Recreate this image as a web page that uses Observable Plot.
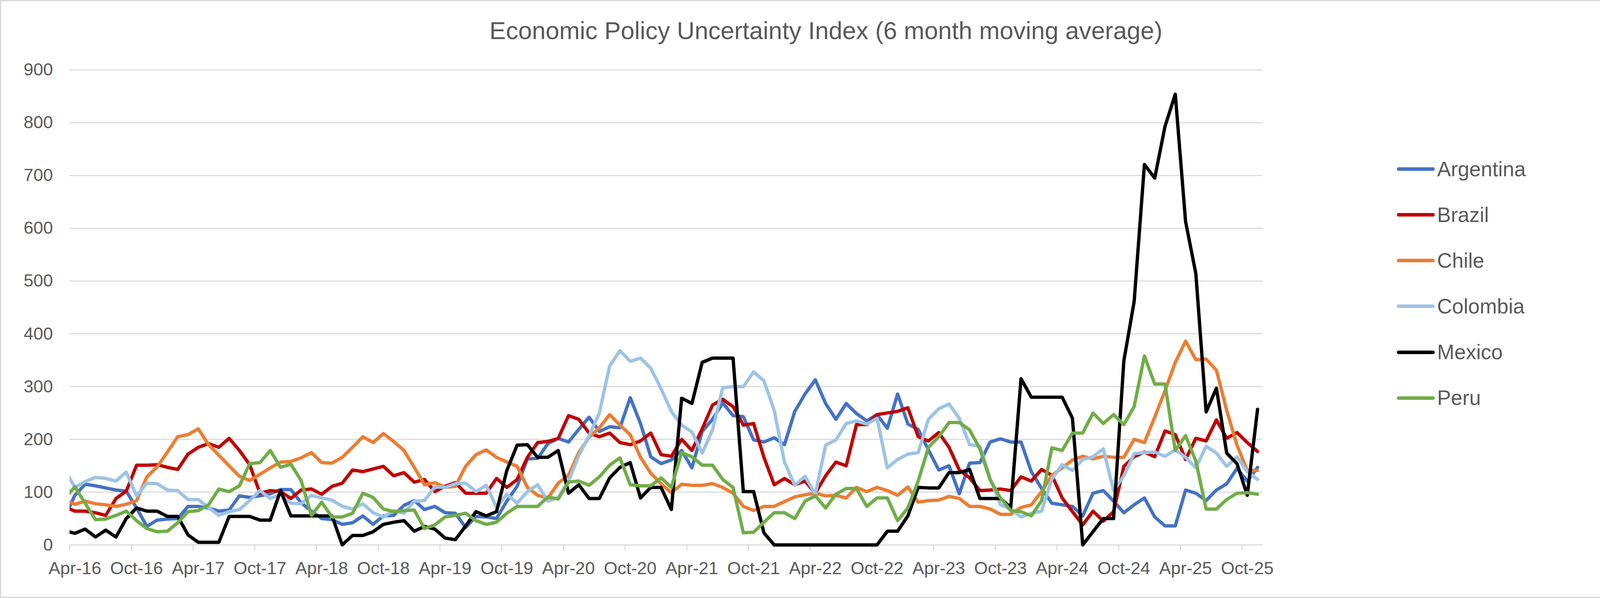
<!DOCTYPE html>
<html>
<head>
<meta charset="utf-8">
<script src="https://cdn.jsdelivr.net/npm/d3@7"></script>
<script src="https://cdn.jsdelivr.net/npm/@observablehq/plot@0.6"></script>
<style>
  html, body { margin: 0; padding: 0; background: #fff; overflow: hidden; }
  #wrap { position: relative; width: 4229px; height: 1530px; overflow: hidden; background: #fff;
          font-family: "Liberation Sans", Arial, Helvetica, sans-serif; color: #595959; }
  #frame { position: absolute; left: 0; top: 0; width: 4229px; height: 1530px; box-sizing: border-box;
           border: 3px solid #d9d9d9; pointer-events: none; }
  #title { position: absolute; left: 0; top: 46.7px; width: 4229px; text-align: center;
           font-size: 63px; line-height: 63px; color: #595959; white-space: nowrap; }
  #chart { position: absolute; left: 0; top: 0; }
  .lg-line { position: absolute; width: 97px; height: 9px; border-radius: 4.5px; }
  .lg-text { position: absolute; font-size: 53px; line-height: 53px; color: #595959; white-space: nowrap; }
</style>
</head>
<body>
<div id="wrap">
  <div id="chart"></div>
  <div id="title">Economic Policy Uncertainty Index (6 month moving average)</div>
  <div id="legend"></div>
  <div id="frame"></div>
</div>
<script>
// Categories
const countries = ["Argentina", "Brazil", "Chile", "Colombia", "Mexico", "Peru"];
const colors = ["#4472C4", "#C00000", "#ED7D31", "#9DC3E6", "#000000", "#70AD47"];
// Monthly categories, Mar-16 .. Nov-25 (117 months; Mar-16 lies just left of the axis and is clipped)
const months = d3.utcMonths(new Date(Date.UTC(2016, 2, 1)), new Date(Date.UTC(2025, 11, 1))).map(d3.utcFormat("%b-%y"));
const tickLabels = ["Apr-16","Oct-16","Apr-17","Oct-17","Apr-18","Oct-18","Apr-19","Oct-19","Apr-20","Oct-20",
                    "Apr-21","Oct-21","Apr-22","Oct-22","Apr-23","Oct-23","Apr-24","Oct-24","Apr-25","Oct-25"];
const yTicks = [0, 100, 200, 300, 400, 500, 600, 700, 800, 900];

// Series values (Mar-16, then Apr-16 .. Nov-25)
const argentina = [52,
  94,115,112,108,104,102,70,35,47,49,50,73,
  73,70,64,66,93,90,93,97,105,105,80,64,
  50,48,39,42,55,39,55,56,75,84,67,73,
  61,60,33,54,53,50,83,111,163,164,192,202,
  195,219,242,215,224,222,279,230,167,154,161,179,
  146,215,238,269,245,243,199,195,203,190,253,286,
  313,268,238,268,249,235,247,221,286,229,219,180,
  142,150,97,155,156,195,201,195,195,139,107,79,
  76,73,55,98,103,83,61,76,89,53,36,36,
  104,98,84,104,116,145,121,147];
const brazil = [72,
  64,64,61,56,88,102,151,151,152,147,143,172,
  185,192,185,202,179,152,98,103,101,88,104,106,
  96,111,117,142,139,144,149,131,137,119,124,101,
  111,118,98,98,98,126,109,124,166,194,196,202,
  245,238,212,205,212,194,190,197,212,171,168,200,
  179,220,265,276,262,227,230,166,114,126,114,121,
  98,131,157,150,228,228,247,250,253,260,205,197,
  213,185,142,127,103,104,106,103,129,121,143,132,
  89,63,38,64,45,63,149,167,176,167,216,209,
  162,202,197,237,202,213,194,177];
const chile = [85,
  77,83,78,76,73,77,84,129,148,176,205,209,
  220,190,170,150,130,122,134,146,157,158,165,175,
  156,155,166,185,205,194,211,196,179,147,114,118,
  109,111,149,171,180,166,157,149,109,94,89,117,
  132,175,204,222,247,227,209,166,136,116,99,115,
  113,113,116,109,98,73,65,73,73,82,91,95,
  98,93,94,89,109,101,109,103,94,110,81,84,
  85,92,88,73,73,68,58,58,71,76,101,132,
  146,161,168,163,168,166,166,200,194,242,292,346,
  386,351,352,331,255,189,141,141];
const colombia = [143,
  109,120,128,126,121,138,93,117,116,104,103,86,
  86,71,56,63,67,84,103,88,96,79,78,94,
  89,85,73,68,78,61,53,65,60,83,84,110,
  109,116,117,101,113,71,96,79,101,114,83,90,
  121,169,207,250,339,368,348,354,335,296,253,227,
  214,174,218,298,300,300,328,311,255,157,113,130,
  96,189,199,230,235,229,240,146,162,172,175,238,
  258,267,240,190,187,126,76,68,53,60,64,125,
  152,141,162,167,182,103,131,173,175,176,168,180,
  166,146,187,174,149,167,139,124];
const mexico = [27,
  22,30,15,28,15,50,70,64,64,54,54,19,
  5,5,5,54,54,54,47,47,103,55,55,55,
  55,55,0,18,18,25,39,43,46,26,35,30,
  13,10,36,63,55,63,141,189,190,166,166,179,
  98,114,88,88,127,147,156,89,109,109,67,278,
  268,346,354,354,354,101,101,23,0,0,0,0,
  0,0,0,0,0,0,0,26,26,55,109,108,
  108,137,137,143,88,88,88,71,315,280,280,280,
  280,240,0,25,50,50,349,461,721,695,793,854,
  613,514,252,297,174,154,94,257];
const peru = [88,
  110,79,48,49,56,64,46,31,25,26,42,63,
  65,76,106,101,112,154,156,179,147,153,122,56,
  81,53,53,60,98,90,68,63,65,66,31,38,
  53,56,60,46,39,43,60,73,73,73,91,87,
  119,121,113,129,151,165,114,112,112,127,109,175,
  167,151,151,124,109,23,24,43,61,61,50,83,
  93,70,96,107,107,73,89,89,46,70,121,185,
  205,232,232,218,182,123,89,65,63,55,84,184,
  179,212,212,250,230,247,228,262,358,305,305,179,
  207,159,68,68,86,98,99,96];

const series = [argentina, brazil, chile, colombia, mexico, peru];

// Long table for Plot: each month sits in the middle of its slot (x = slot index + 0.5)
const table = countries.flatMap((c, ci) =>
  series[ci].map((v, i) => ({country: c, month: months[i], x: i - 0.5, value: v}))
);

const slotStart = (label) => months.indexOf(label) - 1;   // month boundary (tick mark)
const slotMid = (label) => months.indexOf(label) - 0.5;   // month center (label)
const tickPos = tickLabels.map(slotStart);
const labelPos = tickLabels.map(slotMid);
const labelByPos = new Map(labelPos.map((p, i) => [p, tickLabels[i]]));

const chart = Plot.plot({
  width: 4229,
  height: 1530,
  marginLeft: 178,
  marginRight: 997,
  marginTop: 178.5,
  marginBottom: 136.3,
  style: {background: "transparent", fontFamily: "'Liberation Sans', Arial, Helvetica, sans-serif", color: "#595959"},
  x: {domain: [0, months.length - 1], axis: null, label: null},
  y: {domain: [0, 900], axis: null, label: null},
  color: {domain: countries, range: colors},
  marks: [
    Plot.gridY(yTicks, {stroke: "#d9d9d9", strokeOpacity: 1, strokeWidth: 2.7}),
    Plot.axisY(yTicks, {anchor: "left", label: null, tickSize: 0, tickPadding: 43, fontSize: 45, color: "#595959", fill: "#595959"}),
    Plot.axisX(tickPos, {anchor: "bottom", label: null, tickSize: 15, strokeWidth: 2.7, color: "#d9d9d9", stroke: "#d9d9d9", tickFormat: () => ""}),
    Plot.axisX(labelPos, {anchor: "bottom", label: null, tickSize: 0, tickPadding: 43, fontSize: 45, color: "#595959", fill: "#595959",
                          tickFormat: (d) => labelByPos.get(d)}),
    Plot.line(table, {x: "x", y: "value", z: "country", stroke: "country", strokeWidth: 8.5,
                      strokeLinejoin: "round", strokeLinecap: "round", clip: true})
  ]
});

// Clip only horizontally: let lines at 0 keep their full stroke at the bottom edge
chart.querySelectorAll("clipPath rect").forEach((r) => {
  const y = +r.getAttribute("y"), h = +r.getAttribute("height");
  r.setAttribute("y", y - 30);
  r.setAttribute("height", h + 60);
});
document.getElementById("chart").appendChild(chart);

// Legend
const legend = document.getElementById("legend");
const legendY0 = 432.6, legendStep = 117.1;
countries.forEach((c, i) => {
  const y = legendY0 + i * legendStep;
  const line = document.createElement("div");
  line.className = "lg-line";
  line.style.left = "3576px";
  line.style.top = (y - 4.5) + "px";
  line.style.background = colors[i];
  legend.appendChild(line);
  const t = document.createElement("div");
  t.className = "lg-text";
  t.style.left = "3679px";
  t.style.top = (y - 26.9) + "px";
  t.textContent = c;
  legend.appendChild(t);
});
</script>
</body>
</html>
